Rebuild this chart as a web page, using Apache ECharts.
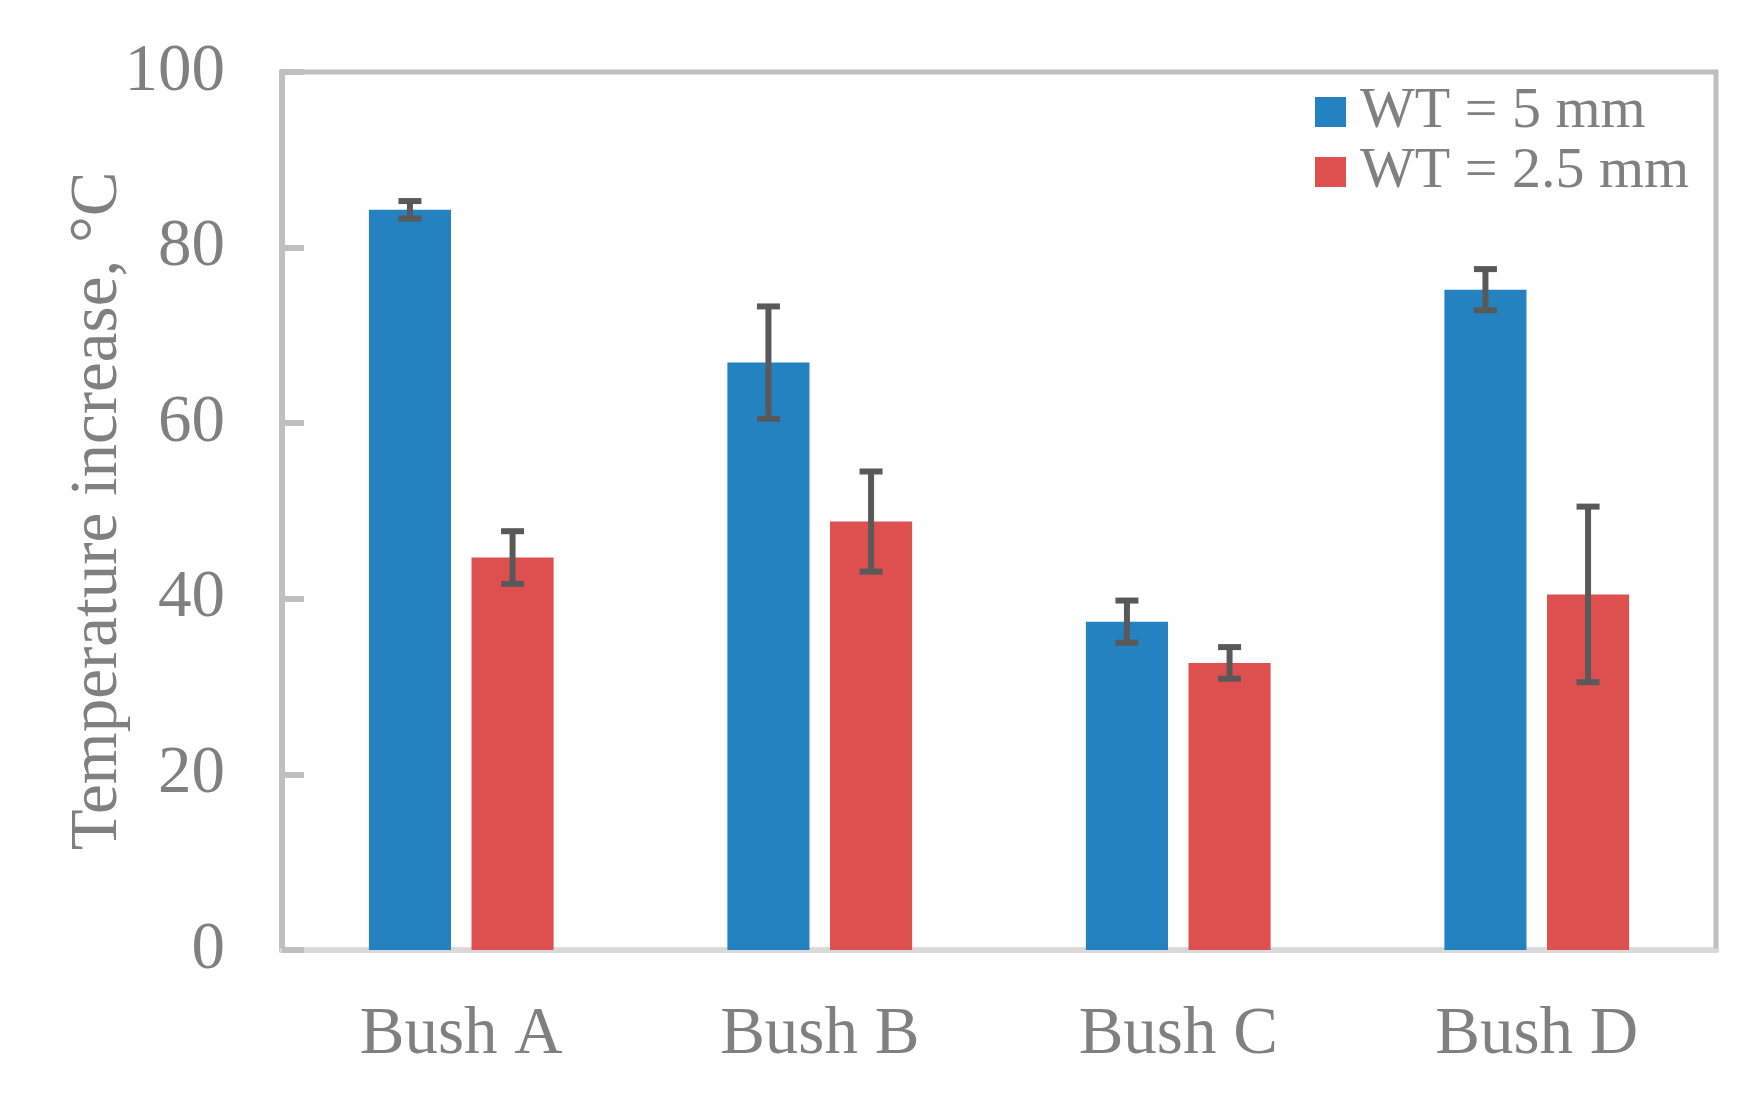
<!DOCTYPE html>
<html>
<head>
<meta charset="utf-8">
<script src="https://cdn.jsdelivr.net/npm/echarts@6/dist/echarts.min.js"></script>
<style>html,body{margin:0;padding:0;background:#fff;}#chart{width:1748px;height:1104px;}</style>
</head>
<body>
<div id="chart"></div>
<script>
const categories = ['Bush A', 'Bush B', 'Bush C', 'Bush D'];
const seriesNames = ['WT = 5 mm', 'WT = 2.5 mm'];
const wt5Values = [84.3, 66.9, 37.4, 75.2];
const wt5Errors = [1.0, 6.4, 2.4, 2.35];
const wt25Values = [44.7, 48.8, 32.7, 40.5];
const wt25Errors = [3.0, 5.7, 1.8, 10.0];
const yTicks = [0, 20, 40, 60, 80, 100];

const FONT = "'Liberation Serif', 'Times New Roman', serif";
const TEXT = '#808080';
const BAR_W = 0.229;   // fraction of category band
const BAR_GAP = 0.25;  // fraction of bar width

function errData(values, errors, sIdx) {
  return values.map((v, i) => [i, v - errors[i], v + errors[i], sIdx]);
}

function renderErr(params, api) {
  const idx = api.value(0);
  const sIdx = api.value(3);
  const lo = api.coord([idx, api.value(1)]);
  const hi = api.coord([idx, api.value(2)]);
  const band = api.size([1, 0])[0];
  const off = band * BAR_W * (1 + BAR_GAP) / 2;
  const x = lo[0] + (sIdx === 0 ? -off : off);
  const cap = 11.5;
  const style = { stroke: '#595959', lineWidth: 6, fill: null };
  return {
    type: 'group',
    children: [
      { type: 'line', shape: { x1: x, y1: hi[1], x2: x, y2: lo[1] }, style },
      { type: 'line', shape: { x1: x - cap, y1: hi[1], x2: x + cap, y2: hi[1] }, style },
      { type: 'line', shape: { x1: x - cap, y1: lo[1], x2: x + cap, y2: lo[1] }, style }
    ]
  };
}

const chart = echarts.init(document.getElementById('chart'), null, { renderer: 'canvas' });
chart.setOption({
  animation: false,
  backgroundColor: '#ffffff',
  textStyle: { fontFamily: FONT, color: TEXT },
  grid: {
    left: 282, right: 32, top: 72, bottom: 154,
    show: true, borderColor: '#bfbfbf', borderWidth: 5, backgroundColor: 'transparent'
  },
  legend: {
    data: seriesNames,
    orient: 'vertical',
    left: 1310, top: 78,
    itemWidth: 31, itemHeight: 30, itemGap: 2,
    icon: 'rect',
    selectedMode: false,
    textStyle: { fontFamily: FONT, fontSize: 58, color: TEXT, lineHeight: 58, padding: [0, 0, 0, 9] }
  },
  xAxis: {
    type: 'category',
    data: categories,
    axisLine: { show: true, lineStyle: { color: '#d9d9d9', width: 5 } },
    axisTick: { show: false },
    axisLabel: { fontFamily: FONT, fontSize: 67, color: TEXT, margin: 52 },
    splitLine: { show: false }
  },
  yAxis: {
    type: 'value',
    min: yTicks[0], max: yTicks[yTicks.length - 1], interval: 20,
    name: 'Temperature increase, °C',
    nameLocation: 'middle',
    nameGap: 150,
    nameMoveOverlap: false,
    nameTextStyle: { fontFamily: FONT, fontSize: 67, color: TEXT },
    axisLine: { show: true, lineStyle: { color: '#bfbfbf', width: 6 } },
    axisTick: { show: true, inside: true, length: 22, lineStyle: { color: '#bfbfbf', width: 6 } },
    axisLabel: { fontFamily: FONT, fontSize: 67, color: TEXT, margin: 57 },
    splitLine: { show: false }
  },
  series: [
    {
      name: seriesNames[0], type: 'bar', data: wt5Values,
      barWidth: (BAR_W * 100) + '%', barGap: (BAR_GAP * 100) + '%',
      itemStyle: { color: '#2482c0' }
    },
    {
      name: seriesNames[1], type: 'bar', data: wt25Values,
      barWidth: (BAR_W * 100) + '%', barGap: (BAR_GAP * 100) + '%',
      itemStyle: { color: '#de504f' }
    },
    {
      type: 'custom', renderItem: renderErr, data: errData(wt5Values, wt5Errors, 0),
      encode: { x: 0, y: [1, 2] }, z: 10, silent: true
    },
    {
      type: 'custom', renderItem: renderErr, data: errData(wt25Values, wt25Errors, 1),
      encode: { x: 0, y: [1, 2] }, z: 10, silent: true
    }
  ]
});
</script>
</body>
</html>
